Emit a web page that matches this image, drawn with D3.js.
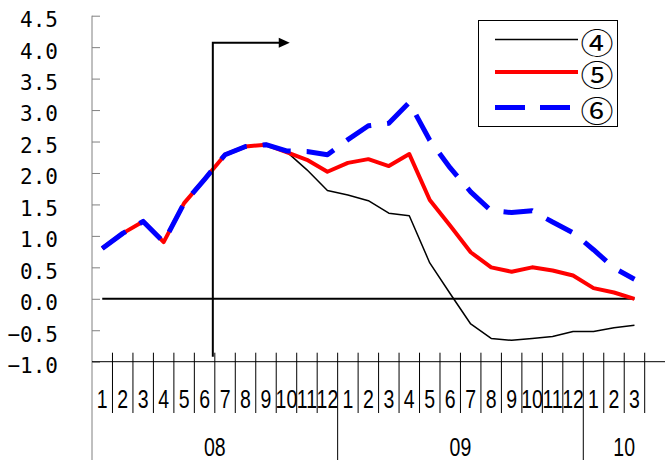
<!DOCTYPE html>
<html>
<head>
<meta charset="utf-8">
<script src="https://cdn.jsdelivr.net/npm/d3@7"></script>
<style>
  html, body { margin: 0; padding: 0; background: #fff; }
  svg { display: block; }
</style>
</head>
<body>
<div id="chart"></div>
<script>
// Month labels (08/1 .. 10/3) and year groups
const months = ['1','2','3','4','5','6','7','8','9','10','11','12',
                '1','2','3','4','5','6','7','8','9','10','11','12',
                '1','2','3'];
const years = ['08', '09', '10'];
const yearSizes = [12, 12, 3];

const yTicks = [-1.0, -0.5, 0.0, 0.5, 1.0, 1.5, 2.0, 2.5, 3.0, 3.5, 4.0, 4.5];

// Series values
const series4 = [0.80, 1.04, 1.23, 0.90, 1.52, 1.90, 2.29, 2.42, 2.45, 2.34, 2.05, 1.72,
                 1.65, 1.56, 1.36, 1.32, 0.57, 0.08, -0.40, -0.63, -0.66, -0.63, -0.60, -0.52,
                 -0.52, -0.46, -0.42];
const series5 = [0.80, 1.04, 1.23, 0.90, 1.52, 1.90, 2.29, 2.42, 2.45, 2.33, 2.21, 2.02,
                 2.16, 2.22, 2.11, 2.30, 1.57, 1.16, 0.74, 0.50, 0.43, 0.50, 0.45, 0.37,
                 0.17, 0.10, 0.00];
const series6 = [0.80, 1.04, 1.23, 0.90, 1.52, 1.90, 2.29, 2.42, 2.45, 2.35, 2.34, 2.29,
                 2.53, 2.75, 2.79, 3.12, 2.52, 2.08, 1.70, 1.40, 1.37, 1.40, 1.22, 1.05,
                 0.78, 0.49, 0.31];

const legendLabels = ['④', '⑤', '⑥'];

// Annotation: arrow starting at month 7 of 08
const arrowMonth = 6;
const arrowTop = 4.07;
const arrowBottom = -0.92;

class LineChart {

  constructor(container) {
    this.container = container;
    this.width = 665;
    this.height = 464;
    this.plot = { left: 92, right: 644.7, top: 15.7, bottom: 361.7 };
  }

  render() {
    this.createSVG();
    this.createScales();
    this.drawYAxis();
    this.drawXAxis();
    this.drawSeries();
    this.drawArrow();
    this.drawLegend();
  }

  createSVG() {
    d3.select(this.container).select('svg').remove();
    this.svg = d3.select(this.container)
      .append('svg')
      .attr('width', this.width)
      .attr('height', this.height);

    this.svg.append('rect')
      .attr('width', this.width)
      .attr('height', this.height)
      .attr('fill', '#fff');
  }

  createScales() {
    this.x = d3.scaleBand()
      .domain(d3.range(months.length))
      .range([this.plot.left, this.plot.right])
      .padding(0);
    this.bw = this.x.bandwidth();
    this.cx = i => this.x(i) + this.bw / 2;

    this.y = d3.scaleLinear()
      .domain([-1, 4.5])
      .range([this.plot.bottom, this.plot.top]);
  }

  drawYAxis() {
    const axis = d3.axisLeft(this.y)
      .tickValues(yTicks)
      .tickSizeInner(-8)
      .tickSizeOuter(0)
      .tickPadding(34)
      .tickFormat(d3.format('.1f'));

    const g = this.svg.append('g')
      .attr('transform', `translate(${this.plot.left},0)`)
      .call(axis);

    g.select('.domain').remove();
    g.selectAll('.tick line').attr('stroke', '#808080');
    g.selectAll('.tick text')
      .attr('fill', '#000')
      .attr('dy', '0.52em')
      .style('font-family', '"DejaVu Sans Mono", monospace')
      .style('font-size', '21px');

    // Vertical axis line runs down through the category labels
    this.svg.append('line')
      .attr('x1', this.plot.left).attr('x2', this.plot.left)
      .attr('y1', this.plot.top).attr('y2', 460)
      .attr('stroke', '#808080')
      .attr('stroke-width', 1);
  }

  drawXAxis() {
    const yAxis = this.plot.bottom;

    this.svg.append('line')
      .attr('x1', this.plot.left).attr('x2', this.width)
      .attr('y1', yAxis).attr('y2', yAxis)
      .attr('stroke', '#000')
      .attr('stroke-width', 1);

    // Month separators
    const bounds = d3.range(1, months.length + 1);
    this.svg.append('g')
      .selectAll('line')
      .data(bounds)
      .enter().append('line')
      .attr('x1', d => this.plot.left + d * this.bw)
      .attr('x2', d => this.plot.left + d * this.bw)
      .attr('y1', yAxis - 9)
      .attr('y2', d => (d === 12 || d === 24) ? 460 : 413)
      .attr('stroke', '#000')
      .attr('stroke-width', 1);

    // Month labels (narrow gothic look)
    this.svg.append('g')
      .selectAll('text')
      .data(months)
      .enter().append('text')
      .attr('transform', (d, i) => `translate(${this.cx(i)},408) scale(0.78,1)`)
      .attr('text-anchor', 'middle')
      .style('font-family', '"Liberation Sans", Arial, sans-serif')
      .style('font-size', '25px')
      .text(d => d);

    // Year labels
    let start = 0;
    const yearPos = yearSizes.map((n, k) => {
      const x0 = this.x(start);
      // the last group runs to the chart edge
      const x1 = k === yearSizes.length - 1 ? this.width : this.x(start + n - 1) + this.bw;
      start += n;
      return (x0 + x1) / 2;
    });

    this.svg.append('g')
      .selectAll('text')
      .data(years)
      .enter().append('text')
      .attr('transform', (d, i) => `translate(${yearPos[i]},456) scale(0.78,1)`)
      .attr('text-anchor', 'middle')
      .style('font-family', '"Liberation Sans", Arial, sans-serif')
      .style('font-size', '25px')
      .text(d => d);
  }

  drawSeries() {
    const line = d3.line()
      .x((d, i) => this.cx(i))
      .y(d => this.y(d));

    // Zero line
    this.svg.append('line')
      .attr('x1', this.cx(0)).attr('x2', this.cx(months.length - 1))
      .attr('y1', this.y(0)).attr('y2', this.y(0))
      .attr('stroke', '#000')
      .attr('stroke-width', 2);

    this.svg.append('path')
      .datum(series4)
      .attr('d', line)
      .attr('fill', 'none')
      .attr('stroke', '#000')
      .attr('stroke-width', 1.5)
      .attr('stroke-linejoin', 'round');

    this.svg.append('path')
      .datum(series5)
      .attr('d', line)
      .attr('fill', 'none')
      .attr('stroke', '#ff0000')
      .attr('stroke-width', 4)
      .attr('stroke-linejoin', 'round');

    this.svg.append('path')
      .datum(series6)
      .attr('d', line)
      .attr('fill', 'none')
      .attr('stroke', '#0000ff')
      .attr('stroke-width', 5)
      .attr('stroke-dasharray', '29,16')
      .attr('stroke-linejoin', 'round');
  }

  drawArrow() {
    const xa = this.x(arrowMonth) - 2;
    const yTop = this.y(arrowTop);
    const xEnd = this.x(9) + this.bw * 0.66;

    this.svg.append('path')
      .attr('d', `M${xa},${this.y(arrowBottom)}V${yTop}H${xEnd - 10}`)
      .attr('fill', 'none')
      .attr('stroke', '#000')
      .attr('stroke-width', 2);

    this.svg.append('path')
      .attr('d', `M${xEnd - 11},${yTop - 5}L${xEnd},${yTop}L${xEnd - 11},${yTop + 5}Z`)
      .attr('fill', '#000');
  }

  drawLegend() {
    const lg = this.svg.append('g');

    lg.append('rect')
      .attr('x', 478.5).attr('y', 20.5)
      .attr('width', 139).attr('height', 106)
      .attr('fill', '#fff')
      .attr('stroke', '#000')
      .attr('stroke-width', 1);

    const items = [
      { label: legendLabels[0], color: '#000', width: 1.5, dash: null, y: 39.5 },
      { label: legendLabels[1], color: '#ff0000', width: 4, dash: null, y: 72 },
      { label: legendLabels[2], color: '#0000ff', width: 5, dash: '30,15', y: 107.5 }
    ];

    const row = lg.selectAll('g.item')
      .data(items)
      .enter().append('g')
      .attr('class', 'item');

    row.append('line')
      .attr('x1', 495).attr('x2', 578)
      .attr('y1', d => d.y).attr('y2', d => d.y)
      .attr('stroke', d => d.color)
      .attr('stroke-width', d => d.width)
      .attr('stroke-dasharray', d => d.dash);

    // Circled digits, slightly widened like the original gothic glyphs
    row.append('text')
      .attr('transform', d => `translate(597,${d.y + 1}) scale(1.1,1)`)
      .attr('text-anchor', 'middle')
      .attr('dominant-baseline', 'central')
      .style('font-family', '"Noto Sans CJK JP", "DejaVu Sans", sans-serif')
      .style('font-size', '30px')
      .text(d => d.label);
  }
}

new LineChart('#chart').render();
</script>
</body>
</html>
